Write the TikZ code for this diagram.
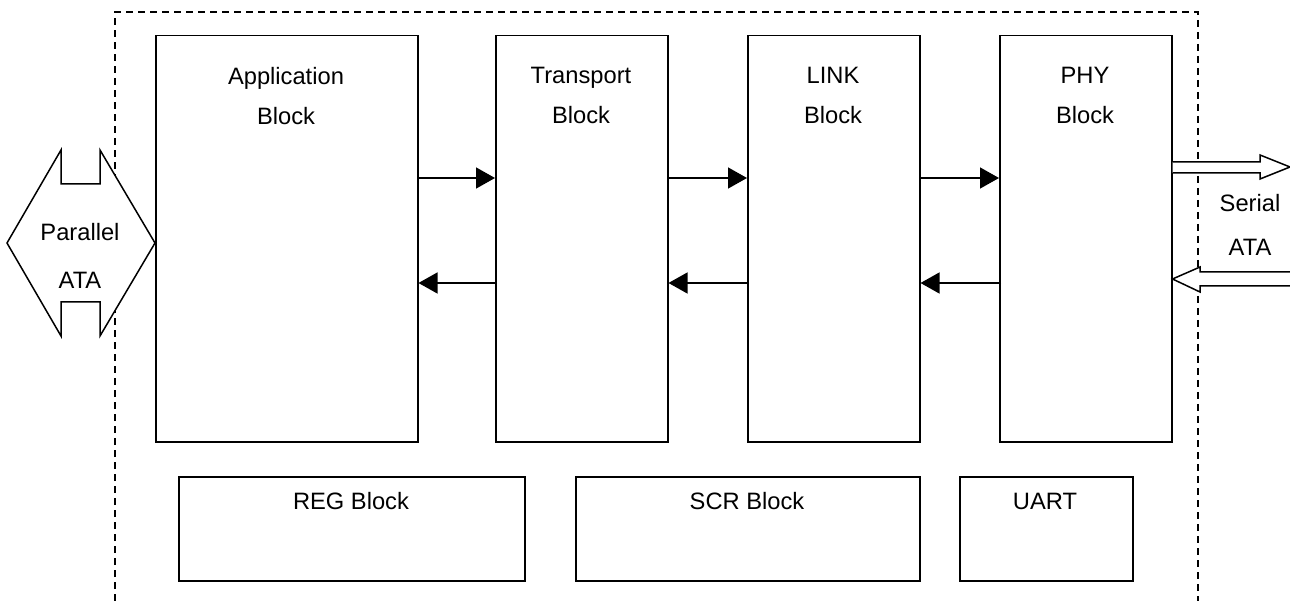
\documentclass[tikz,border=0pt]{standalone}
\usepackage{fontspec}
\setmainfont{Liberation Sans}
\usepackage{tikz}
\usetikzlibrary{arrows.meta,positioning}

\tikzset{
  blk/.style={draw,line width=1.5pt,fill=white,anchor=north west,inner sep=0pt},
  txt/.style={font=\fontsize{23.7}{40}\selectfont,align=center,inner sep=0pt},
  link/.style={line width=1.4pt,-{Triangle[length=19pt,width=21pt]}},
  bigarrow/.style={draw,line width=1.5pt,fill=white,line join=miter}
}

\begin{document}
\begin{tikzpicture}[x=1pt,y=-1pt]
                      \useasboundingbox (0,0) rectangle (1290,601);
                      % outer frame, open at the bottom
                      \draw[line width=1.7pt,dash pattern=on 7pt off 5pt](115,601)--(115,12)--(1198,12)--(1198,601);
                      % main blocks
                      \node[blk,minimum width=262pt,minimum height=406pt](app)at(155,35){};
                      \node[blk,minimum width=172pt,minimum height=406pt](tra)at(495,35){};
                      \node[blk,minimum width=172pt,minimum height=406pt](lnk)at(747,35){};
                      \node[blk,minimum width=172pt,minimum height=406pt](phy)at(999,35){};
                      \node[txt,anchor=north](appT)at(286,67){Application\\Block};
                      \node[txt,anchor=north](traT)at(581,67){Transport\\Block};
                      \node[txt,anchor=north](lnkT)at(833,67){LINK\\Block};
                      \node[txt,anchor=north](phyT)at(1085,67){PHY\\Block};
                      % lower blocks
                      \node[blk,minimum width=346pt,minimum height=104pt](reg)at(178,476){};
                      \node[blk,minimum width=344pt,minimum height=104pt](scr)at(575,476){};
                      \node[blk,minimum width=173pt,minimum height=104pt](uart)at(959,476){};
                      \node[txt,anchor=base](regT)at(351,509){REG Block};
                      \node[txt,anchor=base](scrT)at(747,509){SCR Block};
                      \node[txt,anchor=base](uartT)at(1045,509){UART};
                      % arrows between the blocks
                      \coordinate(fwd)at(0,178);
                      \coordinate(bwd)at(0,283);
                      \foreach \a/\b in {app/tra,tra/lnk,lnk/phy}{
                        \draw[link](\a.east|-fwd)--(\b.west|-fwd);
                        \draw[link]([xshift=2pt]\b.west|-bwd)--(\a.east|-bwd);
                      }
                      % parallel ATA port
                      \draw[bigarrow](7,243)--(61,150)--(61,184)--(100,184)--(100,150)--(app.west|-0,243)
                        --(100,336)--(100,302)--(61,302)--(61,336)--cycle;
                      \node[txt,anchor=base](parT)at(80,241){Parallel};
                      \node[txt,anchor=base](pataT)at(80,289){ATA};
                      % serial ATA port
                      \draw[bigarrow](phy.east|-0,162)--(1260,162)--(1260,155)--(1290,167)--(1260,179)--(1260,173)--(phy.east|-0,173);
                      \draw[bigarrow](1290,272)--(1200,272)--(1200,267)--(phy.east|-0,279)--(1200,292)--(1200,286)--(1290,286);
                      \node[txt,anchor=base](serT)at(1250,212){Serial};
                      \node[txt,anchor=base](satT)at(1250,256){ATA};
\end{tikzpicture}
\end{document}
